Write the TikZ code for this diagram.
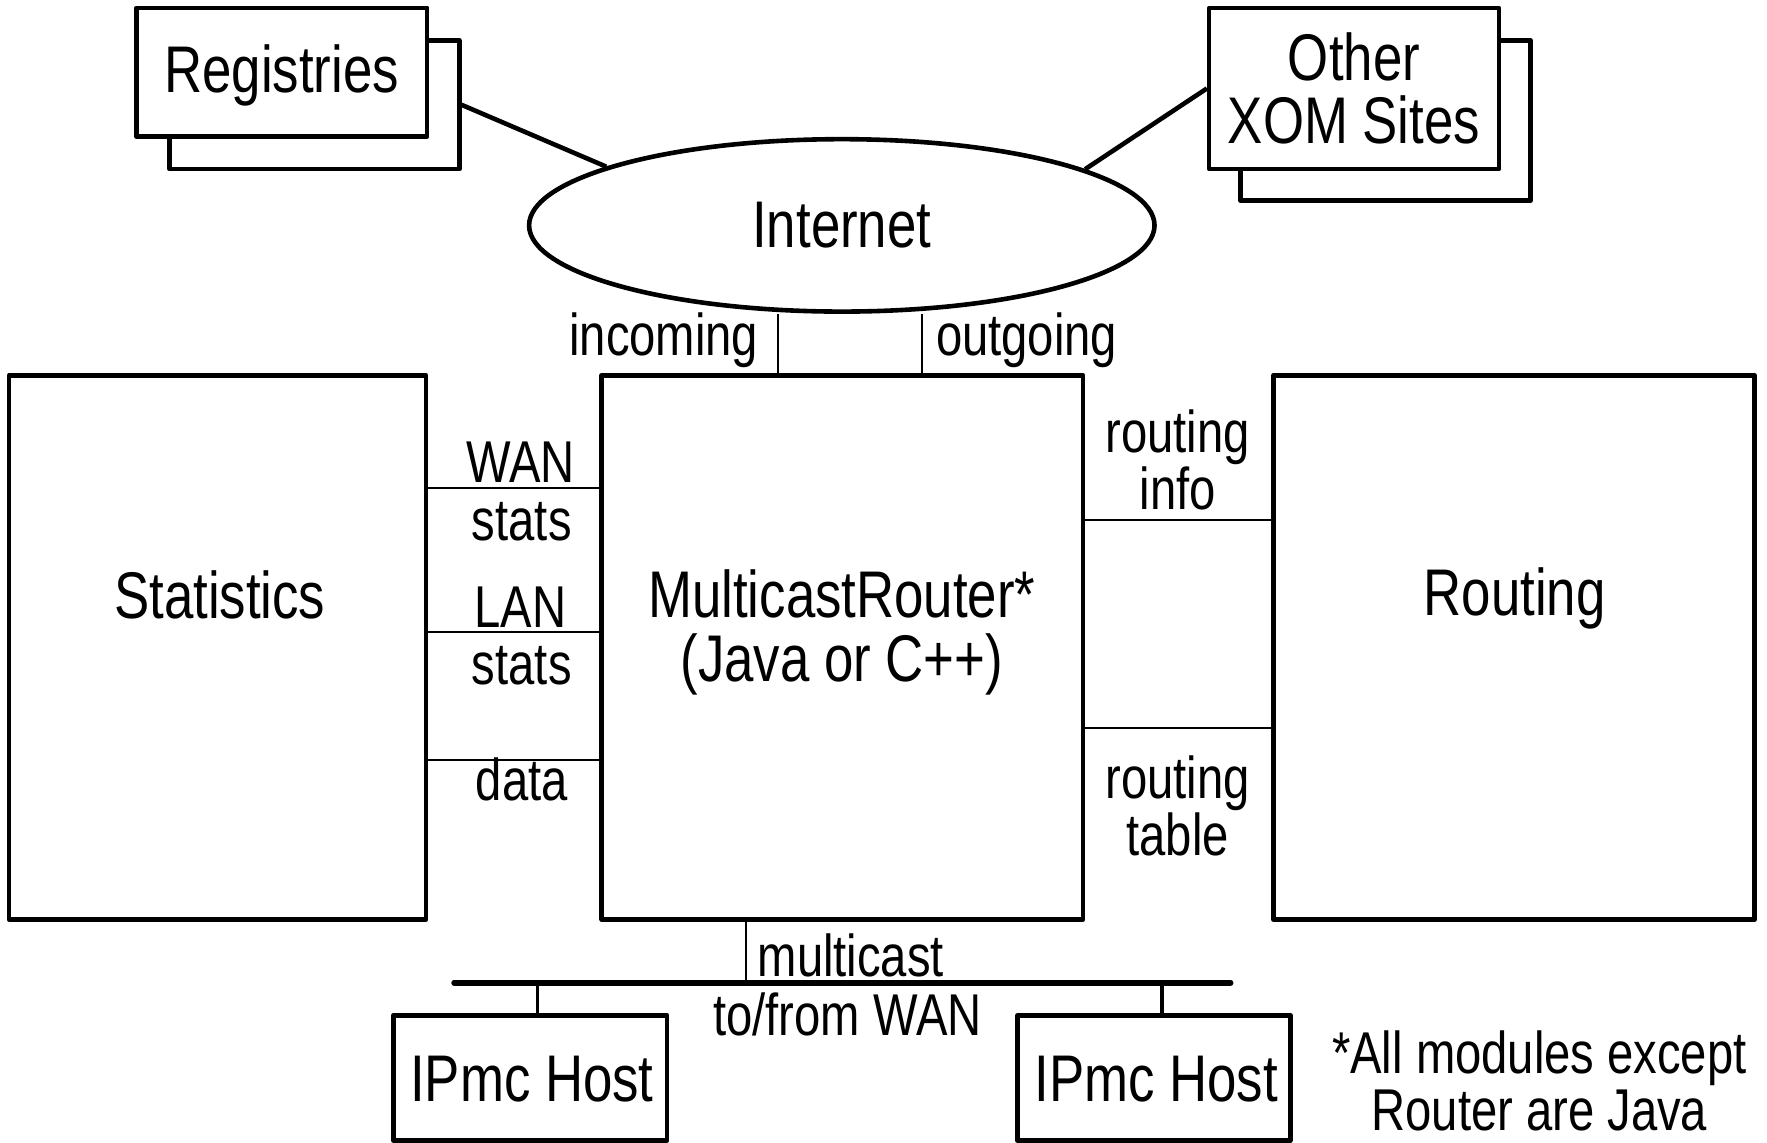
\documentclass[tikz,border=0pt]{standalone}
\usepackage{fontspec}
\setmainfont{Liberation Sans}[FakeStretch=0.8]
\usetikzlibrary{shapes.geometric}
\def\pxu{0.5635pt}
\begin{document}
\begin{tikzpicture}[x=0.5635pt,y=-0.5635pt,
  box/.style={draw, line width=2.3pt, fill=white, line join=round, inner sep=0pt, rectangle, align=center,
              font=\fontsize{33}{31.5}\selectfont},
  size/.style 2 args={minimum width=#1*\pxu, minimum height=#2*\pxu},
  big/.style={font=\fontsize{33}{32}\selectfont, inner sep=0pt, align=center},
  small/.style={font=\fontsize{29.5}{28.3}\selectfont, inner sep=0pt, align=center},
  thinlink/.style={line width=1pt},
  thicklink/.style={line width=2.3pt},
  buslink/.style={line width=2.9pt, line cap=round},
  droplink/.style={line width=1.8pt},
]
\useasboundingbox (0,0) rectangle (1568,1014);

% registries (stacked boxes)
\node[box, size={257}{114}] (regback) at (279,93) {};
\node[box, size={258}{114}] (reg) at (250,64) {};
\node[big] (regtext) at (250,67) {Registries};

% other sites (stacked boxes)
\node[box, size={257}{142}] (xomback) at (1229.5,107) {};
\node[box, size={257}{143}] (xom) at (1201.5,78.5) {Other\\XOM Sites};

% the internet cloud
\node[ellipse, draw, line width=2.3pt, fill=white, inner sep=0pt, size={555}{153},
      font=\fontsize{33}{32}\selectfont] (inet) at (747,200) {Internet};

\draw[thicklink] (regback.east) -- (inet.166.3);
\draw[thicklink] (xom.west) -- (inet.13.7);

% the three main modules
\node[box, size={370}{483}] (stat) at (193,574.5) {};
\node[box, size={427}{483}] (router) at (747.5,574.5) {};
\node[box, size={427}{483}] (routing) at (1343.5,574.5) {};

\node[big] (stattext) at (195,528) {Statistics};
\node[big] (routertext) at (747,561) {MulticastRouter*\\(Java or C++)};
\node[big] (routingtext) at (1344,531) {Routing};

% router <-> internet
\coordinate (inA) at (690,333);
\coordinate (outA) at (818,333);
\draw[thinlink] (inA) -- (inA |- inet.south);
\draw[thinlink] (outA) -- (outA |- inet.south);
\node[small] (inlbl) at (589,302) {incoming};
\node[small] (outlbl) at (911,302) {outgoing};

% statistics <-> router
\draw[thinlink] (stat.east |- 0,433) -- (router.west |- 0,433);
\draw[thinlink] (stat.east |- 0,561) -- (router.west |- 0,561);
\draw[thinlink] (stat.east |- 0,674) -- (router.west |- 0,674);
\node[small] (wanlbl) at (462,410) {WAN};
\node[small] (wanstats) at (463,463) {stats};
\node[small] (lanlbl) at (462,539) {LAN};
\node[small] (lanstats) at (463,591) {stats};
\node[small] (datalbl) at (463,692) {data};

% router <-> routing
\draw[thinlink] (router.east |- 0,461) -- (routing.west |- 0,461);
\draw[thinlink] (router.east |- 0,646) -- (routing.west |- 0,646);
\node[small] (rinfo) at (1045,408) {routing\\info};
\node[small] (rtable) at (1045,715) {routing\\table};

% multicast bus and hosts
\coordinate (busL) at (403,872);
\coordinate (busR) at (1092,872);
\coordinate (mc) at (662,816);
\draw[buslink] (busL) -- (busR);
\draw[thinlink] (mc) -- (mc |- busL);

\node[box, size={243}{111}] (host1) at (470.5,956.5) {};
\node[box, size={242}{111}] (host2) at (1024,956.5) {};
\node[big] (host1text) at (472,958) {IPmc Host};
\node[big] (host2text) at (1026,958) {IPmc Host};
\draw[droplink] (host1.north -| 477,0) -- (busL -| 477,0);
\draw[droplink] (host2.north -| 1031,0) -- (busL -| 1031,0);

\node[small] (mclbl) at (755,848) {multicast};
\node[small] (wanbus) at (752,900) {to/from WAN};
\node[small] (note) at (1366,959) {*All modules except\\Router are Java};
\end{tikzpicture}
\end{document}
